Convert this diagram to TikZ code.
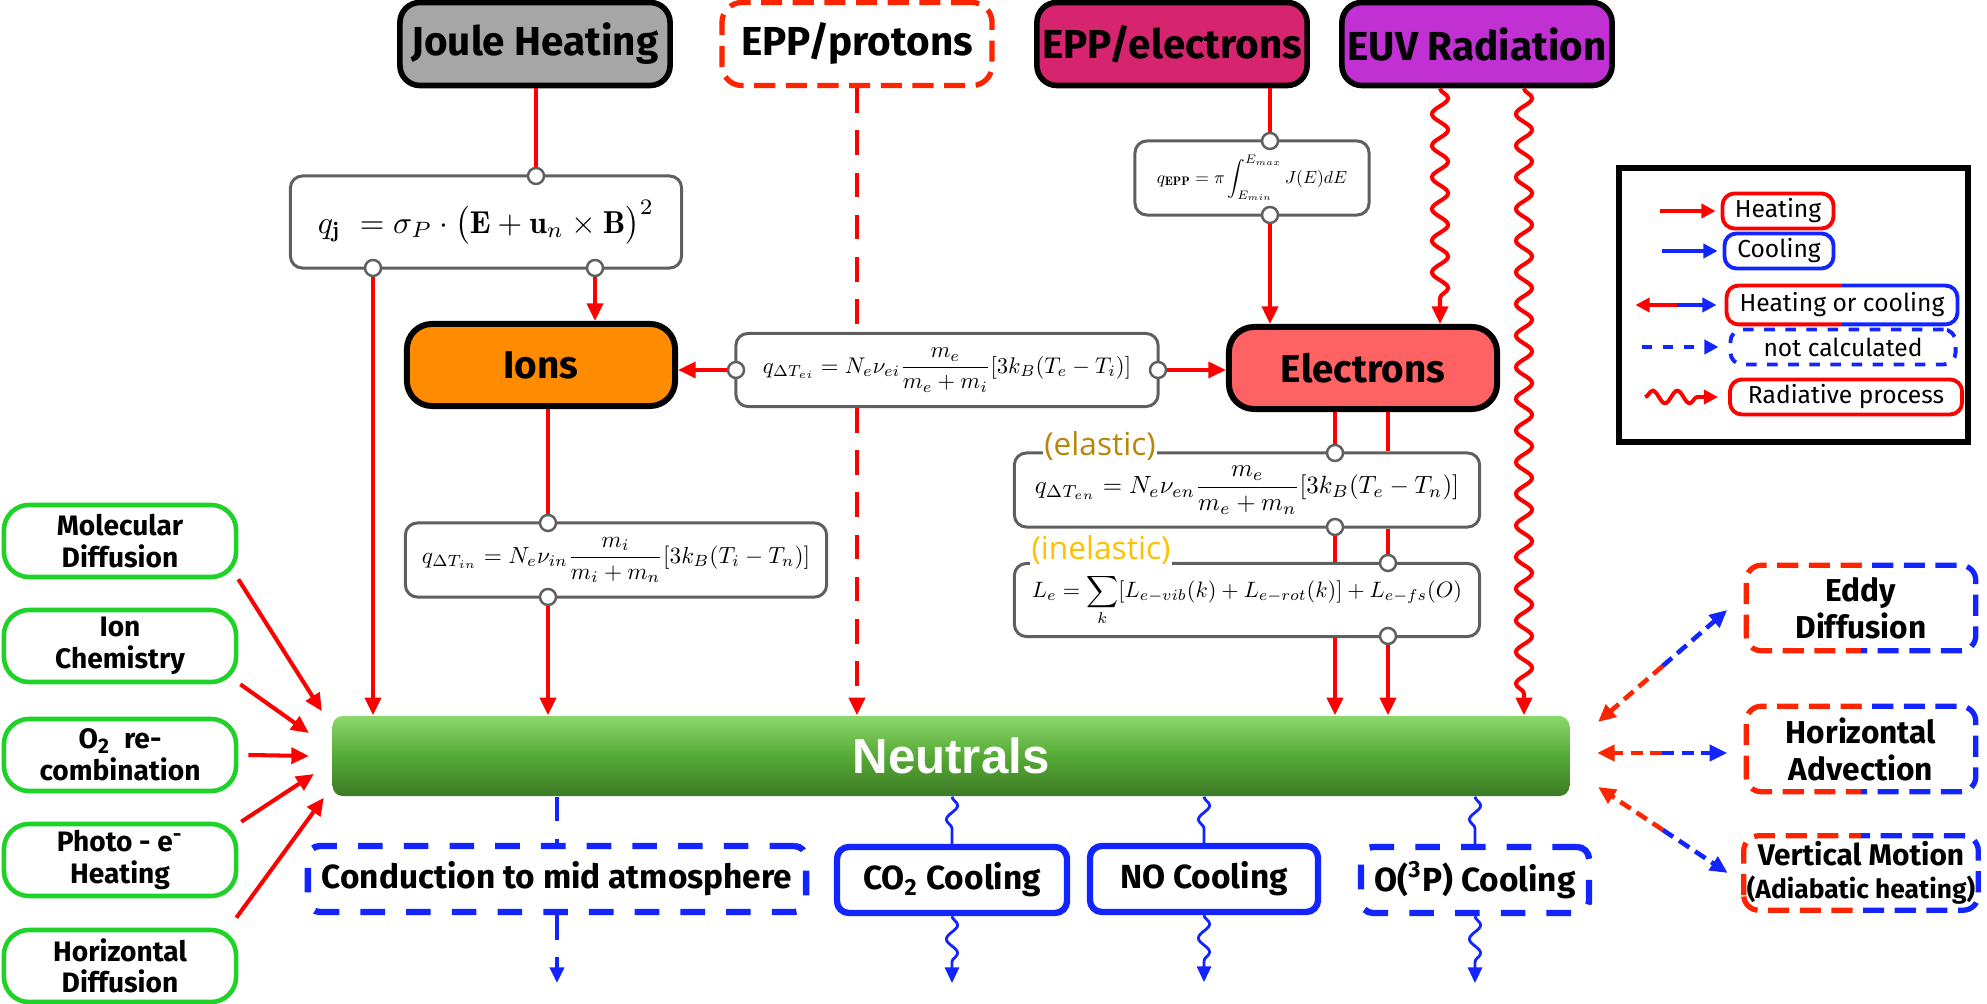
\documentclass[tikz,border=0pt]{standalone}
\usepackage{fontspec}
\usepackage{amsmath}
\usepackage{graphicx}
\usetikzlibrary{arrows.meta,decorations.pathmorphing,calc}
\newfontfamily\cfont{Fira Sans}
\newfontfamily\nfont{Liberation Sans}
\newfontfamily\tfont{Open Sans}
\definecolor{joulegray}{RGB}{166,166,166}
\definecolor{eppmag}{RGB}{214,36,110}
\definecolor{euvpur}{RGB}{192,48,210}
\definecolor{ionorange}{RGB}{255,140,0}
\definecolor{elecred}{RGB}{255,98,98}
\definecolor{hotred}{RGB}{255,0,0}
\definecolor{protred}{RGB}{255,36,0}
\definecolor{coolblue}{RGB}{18,36,255}
\definecolor{boxgreen}{RGB}{30,210,40}
\definecolor{ntop}{RGB}{140,214,110}
\definecolor{nmid}{RGB}{86,170,52}
\definecolor{nbot}{RGB}{60,122,38}
\definecolor{eqgray}{RGB}{95,95,95}
\definecolor{elgold}{RGB}{184,134,11}
\definecolor{inelgold}{RGB}{255,192,0}
\tikzset{src/.style={draw=black, line width=1.6pt, rounded corners=0.2cm, minimum width=2.70cm, minimum height=0.83cm, inner sep=0pt, font=\cfont\bfseries\fontsize{11.5}{13}\selectfont},
  species/.style={draw=black, line width=1.7pt, rounded corners=0.25cm, minimum width=2.68cm, minimum height=0.82cm, inner sep=0pt, font=\cfont\bfseries\fontsize{11}{13}\selectfont},
  neutral/.style={rounded corners=0.1cm, top color=ntop, bottom color=nbot, middle color=nmid, minimum width=12.36cm, minimum height=0.80cm, inner sep=0pt, text=white, font=\nfont\bfseries\fontsize{14}{16}\selectfont},
  eq/.style={draw=eqgray, line width=0.85pt, fill=white, rounded corners=0.12cm, inner sep=0pt},
  port/.style={circle, draw=eqgray, fill=white, line width=0.7pt, minimum size=0.16cm, inner sep=0pt},
  gbox/.style={draw=boxgreen, line width=1.3pt, rounded corners=0.25cm, minimum width=2.32cm, minimum height=0.72cm, inner sep=0pt, align=center, font=\cfont\bfseries\fontsize{8}{9}\selectfont},
  mixbox/.style={minimum width=2.28cm, minimum height=0.84cm, inner sep=0pt, align=center, font=\cfont\bfseries\fontsize{9}{10.5}\selectfont},
  mixframe/.style={line width=1.5pt, dash pattern=on 6pt off 3pt, rounded corners=0.15cm},
  sink/.style={draw=coolblue, line width=1.8pt, rounded corners=0.12cm, minimum height=0.66cm, inner sep=0pt, font=\cfont\bfseries\fontsize{9.5}{11}\selectfont},
  lkey/.style={line width=1.1pt, rounded corners=0.12cm, minimum height=0.35cm, inner sep=0pt, font=\cfont\fontsize{7}{8}\selectfont},
  tip/.style={-{Triangle[length=5pt,width=4.5pt]}},
  heatline/.style={draw=hotred, line width=1.15pt},
  heatarr/.style={heatline, tip},
  protline/.style={draw=hotred, line width=1.4pt, dash pattern=on 7pt off 5pt},
  radarr/.style={heatarr, decorate, decoration={snake, amplitude=2.3pt, segment length=9pt, post length=5pt}},
  mixred/.style={draw=protred, line width=1.3pt, dash pattern=on 3.5pt off 2pt, tip},
  mixblue/.style={mixred, draw=coolblue},
  notcalc/.style={draw=coolblue, line width=1.4pt, dash pattern=on 7pt off 5pt},
  coolrad/.style={draw=coolblue, line width=0.8pt, decorate, decoration={snake, amplitude=1.6pt, segment length=8pt, post length=3pt}},
  legheat/.style={draw=hotred, line width=1.1pt, -{Triangle[length=4pt,width=4pt]}},
  legcool/.style={legheat, draw=coolblue},
  eqtag/.style={fill=white, inner sep=0.5pt, font=\tfont\fontsize{9}{10}\selectfont}}
\newcommand\eqfit[2]{\resizebox{#1}{!}{$\displaystyle #2$}}
\newcommand\splitframe[3]{%
  \begin{scope}
    \clip ([shift={(-20,20)}]#1.south west) rectangle ([shift={(0,-20)}]#1.north);
    \draw[#2] (#1.south west) rectangle (#1.north east);
  \end{scope}
  \begin{scope}
    \clip ([shift={(0,20)}]#1.south) rectangle ([shift={(20,-20)}]#1.north east);
    \draw[#3] (#1.south west) rectangle (#1.north east);
  \end{scope}}

\begin{document}
\begin{tikzpicture}[x=0.01cm, y=-0.01cm]
  \useasboundingbox (0,0) rectangle (1987,1004);

  % sources
  \node[src, fill=joulegray] (jh)  at ( 535, 44) {Joule Heating};
  \node[src, draw=protred, line width=1.5pt, dash pattern=on 6pt off 3pt, fill=white] (pp) at ( 857, 44) {EPP/protons};
  \node[src, fill=eppmag]    (pe)  at (1172, 44) {EPP/electrons};
  \node[src, fill=euvpur]    (euv) at (1477, 44) {EUV Radiation};

  % equations
  \node[eq, minimum width=3.91cm, minimum height=0.92cm] (qj) at (486,222)
    {\eqfit{3.36cm}{q_{\mathbf{j}}\ =\sigma_P\cdot\bigl(\mathbf{E}+\mathbf{u}_n\times\mathbf{B}\bigr)^2}};
  \node[eq, minimum width=4.22cm, minimum height=0.73cm] (qei) at (947,370)
    {\eqfit{3.68cm}{q_{\Delta T_{ei}}=N_e\nu_{ei}\frac{m_e}{m_e+m_i}[3k_B(T_e-T_i)]}};
  \node[eq, minimum width=4.21cm, minimum height=0.74cm] (qin) at (616,560)
    {\eqfit{3.88cm}{q_{\Delta T_{in}}=N_e\nu_{in}\frac{m_i}{m_i+m_n}[3k_B(T_i-T_n)]}};
  \node[eq, minimum width=2.34cm, minimum height=0.74cm] (qep) at (1252,178)
    {\eqfit{1.90cm}{q_{\mathbf{EPP}}=\pi\int_{E_{min}}^{E_{max}}J(E)dE}};
  \node[eq, minimum width=4.65cm, minimum height=0.74cm] (qen) at (1247,490)
    {\eqfit{4.24cm}{q_{\Delta T_{en}}=N_e\nu_{en}\frac{m_e}{m_e+m_n}[3k_B(T_e-T_n)]}};
  \node[eq, minimum width=4.65cm, minimum height=0.73cm] (le) at (1247,600)
    {\raisebox{-1.5pt}{\eqfit{4.30cm}{L_e=\sum_k[L_{e-vib}(k)+L_{e-rot}(k)]+L_{e-fs}(O)}}};
  \node[eqtag, text=elgold]   (tel) at (1100,446) {(elastic)};
  \node[eqtag, text=inelgold] (tin) at (1101,550) {(inelastic)};

  % species
  \node[species, fill=ionorange] (ion) at ( 541,365) {Ions};
  \node[species, fill=elecred]   (ele) at (1363,368) {Electrons};
  \node[neutral]                 (nt)  at ( 951,756) {Neutrals};

  % ports
  \node[port] (a) at ( 536,176) {};
  \node[port] (b) at ( 373,268) {};
  \node[port] (c) at ( 595,268) {};
  \node[port] (d) at ( 736,370) {};
  \node[port] (e) at (1158,370) {};
  \node[port] (f) at ( 548,523) {};
  \node[port] (g) at ( 548,597) {};
  \node[port] (h) at (1270,141) {};
  \node[port] (i) at (1270,215) {};
  \node[port] (j) at (1335,453) {};
  \node[port] (k) at (1335,527) {};
  \node[port] (l) at (1388,563) {};
  \node[port] (m) at (1388,636) {};

  \draw[heatline] (jh.south -| a) -- (a);
  \draw[heatarr] (b) -- (b |- nt.north);
  \draw[heatarr] (c) -- (c |- ion.north);
  \draw[heatarr] (d) -- (ion.east |- d);
  \draw[heatarr] (e) -- (ele.west |- e);
  \draw[heatline] (ion.south -| f) -- (f);
  \draw[heatarr] (g) -- (g |- nt.north);
  \draw[protline] (pp.south) -- (pp.south |- qei.north);
  \draw[protline, tip] (pp.south |- qei.south) -- (pp.south |- nt.north);
  \draw[heatline] (pe.south -| h) -- (h);
  \draw[heatarr] (i) -- (i |- ele.north);
  \coordinate (u1) at ([shift={(-37,0)}]euv.south);
  \coordinate (u2) at ([shift={(47,0)}]euv.south);
  \draw[radarr] (u1) -- (u1 |- ele.north);
  \draw[radarr] (u2) -- (u2 |- nt.north);
  \draw[heatline] (ele.south -| j) -- (j);
  \draw[heatline] (k) -- (k |- le.north);
  \draw[heatarr] (k |- le.south) -- (k |- nt.north);
  \draw[heatline] (ele.south -| l) -- (l |- qen.north);
  \draw[heatline] (l |- qen.south) -- (l);
  \draw[heatarr] (m) -- (m |- nt.north);

  % left inputs
  \node[gbox] (md) at (120,541) {Molecular\\Diffusion};
  \node[gbox] (ic) at (120,646) {Ion\\Chemistry};
  \node[gbox] (oc) at (120,755) {O\textsubscript{2}\ \ re-\\combination};
  \node[gbox] (ph) at (120,860) {Photo - e\textsuperscript{-}\\Heating};
  \node[gbox] (hd) at (120,966) {Horizontal\\Diffusion};

  \draw[heatarr] (md.south east) -- ([shift={(-10,-4)}]nt.north west);
  \draw[heatarr] ([shift={(2,0)}]ic.south east) -- ([shift={(-23,-23)}]nt.west);
  \draw[heatarr] ([shift={(10,0)}]oc.east) -- ([shift={(-23,0)}]nt.west);
  \draw[heatarr] ([shift={(3,0)}]ph.north east) -- ([shift={(-18,18)}]nt.west);
  \draw[heatarr] ([shift={(-2,-10)}]hd.north east) -- ([shift={(-8,1)}]nt.south west);

  % right exchanges
  \node[mixbox] (ed) at (1861,608) {Eddy\\Diffusion};
  \node[mixbox] (ha) at (1861,749) {Horizontal\\Advection};
  \node[mixbox, minimum width=2.33cm, minimum height=0.73cm, font=\cfont\bfseries\fontsize{8.5}{9.5}\selectfont] (vm) at (1861,873)
    {Vertical Motion\\{\fontsize{7.5}{8}\selectfont(Adiabatic heating)}};
  \splitframe{ed}{mixframe, draw=protred}{mixframe, draw=coolblue}
  \splitframe{ha}{mixframe, draw=protred}{mixframe, draw=coolblue}
  \splitframe{vm}{mixframe, draw=protred}{mixframe, draw=coolblue}

  \coordinate (r1) at ([shift={(28,-34)}]nt.east);
  \coordinate (r2) at ([shift={(-19,2)}]ed.west);
  \coordinate (r3) at ([shift={(27,-3)}]nt.east);
  \coordinate (r4) at ([shift={(-19,4)}]ha.west);
  \coordinate (r5) at ([shift={(28,31)}]nt.east);
  \coordinate (r6) at ([shift={(-16,0)}]vm.west);
  \draw[mixred]  ($(r1)!0.5!(r2)$) -- (r1);
  \draw[mixblue] ($(r1)!0.5!(r2)$) -- (r2);
  \draw[mixred]  ($(r3)!0.5!(r4)$) -- (r3);
  \draw[mixblue] ($(r3)!0.5!(r4)$) -- (r4);
  \draw[mixred]  ($(r5)!0.5!(r6)$) -- (r5);
  \draw[mixblue] ($(r5)!0.5!(r6)$) -- (r6);

  % sinks
  \node[sink, dash pattern=on 7pt off 6pt, minimum width=4.98cm] (cd) at ( 557,879) {Conduction to mid atmosphere};
  \node[sink, minimum width=2.30cm] (co) at ( 952,880) {CO\textsubscript{2} Cooling};
  \node[sink, minimum width=2.28cm] (no) at (1204,879) {NO Cooling};
  \node[sink, dash pattern=on 7pt off 6pt, minimum width=2.28cm] (ox) at (1475,880) {O(\textsuperscript{3}P) Cooling};
  \coordinate (cd1) at ([shift={(0,68)}]cd.south);
  \coordinate (co1) at ([shift={(0,67)}]co.south);
  \coordinate (no1) at ([shift={(0,67)}]no.south);
  \coordinate (ox1) at ([shift={(0,67)}]ox.south);

  \draw[notcalc] (cd.north |- nt.south) -- (cd.north);
  \draw[notcalc, -{Triangle[length=4.5pt,width=4pt]}] (cd.south) -- (cd1);
  \draw[coolrad] (co.north |- nt.south) -- (co.north);
  \draw[coolrad, -{Triangle[length=4.5pt,width=4pt]}] (co.south) -- (co1);
  \draw[coolrad] (no.north |- nt.south) -- (no.north);
  \draw[coolrad, -{Triangle[length=4.5pt,width=4pt]}] (no.south) -- (no1);
  \draw[coolrad] (ox.north |- nt.south) -- (ox.north);
  \draw[coolrad, -{Triangle[length=4.5pt,width=4pt]}] (ox.south) -- (ox1);

  % legend
  \draw[line width=1.7pt] (1619,168) rectangle (1968,442);
  \node[lkey, draw=hotred, minimum width=1.11cm]   (lh)  at (1778,211) {Heating};
  \node[lkey, draw=coolblue, minimum width=1.09cm] (lc)  at (1779,251) {Cooling};
  \node[lkey, minimum width=2.27cm]                (lhc) at (1842,305) {Heating or cooling};
  \node[lkey, draw=coolblue, dashed, minimum width=2.25cm] (lnc) at (1843,347) {not calculated};
  \node[lkey, draw=hotred, minimum width=2.32cm]   (lrp) at (1846,397) {Radiative process};
  \splitframe{lhc}{line width=1.1pt, rounded corners=0.12cm, draw=hotred}{line width=1.1pt, rounded corners=0.12cm, draw=coolblue}

  \draw[legheat] ([shift={(-61,0)}]lh.west) -- ([shift={(-5,0)}]lh.west);
  \draw[legcool] ([shift={(-61,0)}]lc.west) -- ([shift={(-5,0)}]lc.west);
  \draw[legheat] ([shift={(-50,0)}]lhc.west) -- ([shift={(-91,0)}]lhc.west);
  \draw[legcool] ([shift={(-50,0)}]lhc.west) -- ([shift={(-10,0)}]lhc.west);
  \draw[legcool, dash pattern=on 3pt off 3pt] ([shift={(-87,0)}]lnc.west) -- ([shift={(-10,0)}]lnc.west);
  \draw[legheat, decorate, decoration={snake, amplitude=1.8pt, segment length=7pt, post length=4pt}] ([shift={(-83,0)}]lrp.west) -- ([shift={(-10,0)}]lrp.west);
\end{tikzpicture}
\end{document}
